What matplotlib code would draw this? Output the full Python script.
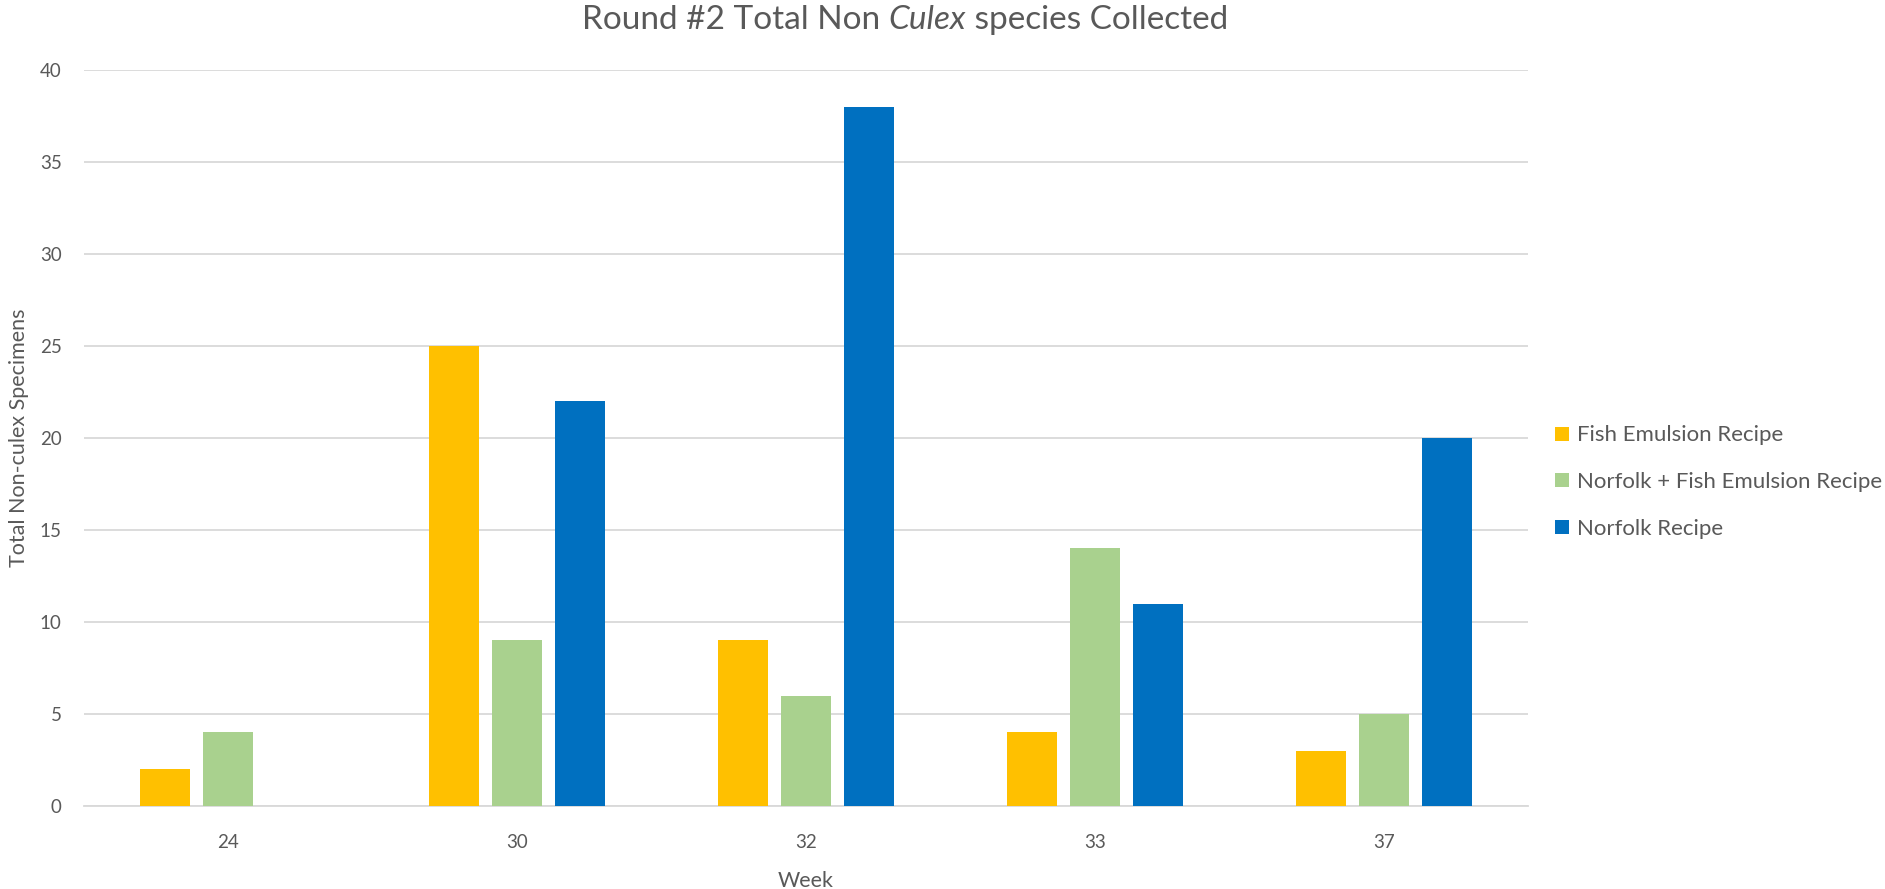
import numpy as np
import matplotlib.pyplot as plt

weeks = ['24', '30', '32', '33', '37']
fish = [2, 25, 9, 4, 3]
norfolk_fish = [4, 9, 6, 14, 5]
norfolk = [0, 22, 38, 11, 20]

series = ['Fish Emulsion Recipe', 'Norfolk + Fish Emulsion Recipe', 'Norfolk Recipe']
colors = ['#FFC000', '#A9D18E', '#0070C0']
grey = '#595959'

plt.rcParams['font.family'] = ['Lato', 'DejaVu Sans']

fig = plt.figure(figsize=(18.85, 8.89), dpi=100)
ax = fig.add_axes([84 / 1885, 1 - 806 / 889, (1528 - 84) / 1885, (806 - 70) / 889])

x = np.arange(len(weeks))
w = 0.173
pitch = 0.218
for i, (vals, name, c) in enumerate(zip([fish, norfolk_fish, norfolk], series, colors)):
    ax.bar(x + (i - 1) * pitch, vals, width=w, color=c, label=name, zorder=3)

ax.set_xlim(-0.5, len(weeks) - 0.5)
ax.set_ylim(0, 40)
ax.set_yticks(range(0, 41, 5))
ax.set_xticks(x)
ax.set_xticklabels(weeks)
ax.grid(axis='y', color='#D9D9D9', linewidth=1.3, zorder=0)
for s in ['top', 'right', 'left']:
    ax.spines[s].set_visible(False)
ax.spines['bottom'].set_color('#D9D9D9')
ax.spines['bottom'].set_linewidth(1.3)
ax.tick_params(axis='both', length=0, colors=grey, labelsize=13.5)
ax.tick_params(axis='x', pad=20)
ax.tick_params(axis='y', pad=16)

ax.set_xlabel('Week', fontsize=15.5, color=grey)
ax.xaxis.set_label_coords(0.5, -0.088)
ax.set_ylabel('Total Non-culex Specimens', fontsize=15.5, color=grey)
ax.yaxis.set_label_coords(-0.038, 0.5)

# title with italic "Culex", laid out piece by piece
pieces = [('Round #2 Total Non ', 'normal'), ('Culex', 'italic'), (' species Collected', 'normal')]
r = fig.canvas.get_renderer()
texts = [fig.text(0, 0.978, s, fontsize=24, color=grey, style=st, va='center') for s, st in pieces]
widths = [t.get_window_extent(r).width for t in texts]
xpos = 0.48 * fig.bbox.width - sum(widths) / 2
for t, wd in zip(texts, widths):
    t.set_x(xpos / fig.bbox.width)
    xpos += wd

ax.legend(loc='center left', bbox_to_anchor=(1.005, 0.44), frameon=False,
          fontsize=16, labelcolor=grey, handlelength=0.6, handleheight=0.6,
          handletextpad=0.4, labelspacing=1.2)

fig.savefig('out.png', dpi=100)
